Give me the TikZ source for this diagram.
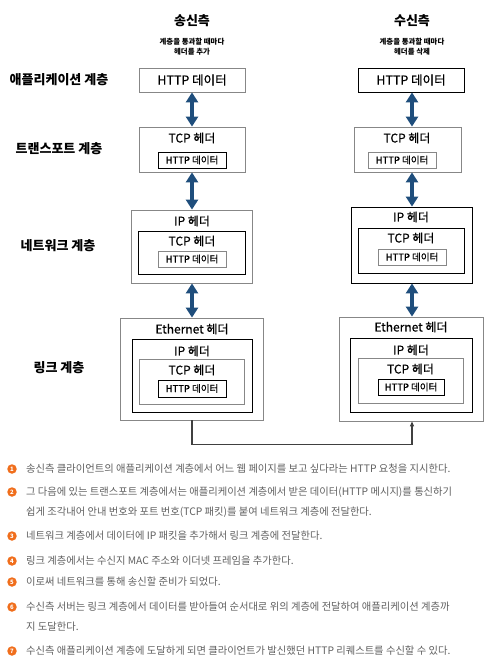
\documentclass[tikz,border=0pt]{standalone}
\usepackage{fontspec}
\setmainfont{Noto Sans CJK KR}
\newfontfamily\boxfont[FakeBold=0.6]{Noto Sans CJK KR}
\usetikzlibrary{arrows.meta}
\definecolor{arrowblue}{RGB}{31,78,124}
\definecolor{dotorange}{RGB}{240,110,28}
\definecolor{notegray}{RGB}{95,95,95}
\definecolor{boxgray}{RGB}{135,135,135}
\tikzset{
  frame/.style={draw=boxgray, line width=0.8pt, inner sep=0pt},
  darkframe/.style={draw=black, line width=0.8pt, inner sep=0pt},
  side/.style={font=\bfseries\fontsize{13}{15}\selectfont, inner sep=0pt},
  hint/.style={font=\bfseries\fontsize{7.4}{10.5}\selectfont, align=center, inner sep=0pt},
  layer/.style={font=\bfseries\fontsize{13}{15}\selectfont, inner sep=0pt},
  big/.style={font=\boxfont\fontsize{12.5}{14}\selectfont},
  mid/.style={font=\boxfont\fontsize{12}{14}\selectfont, inner sep=0pt},
  small/.style={font=\boxfont\fontsize{9.5}{11}\selectfont},
  updown/.style={draw=arrowblue, line width=4pt,
    {Triangle[length=10pt,width=12pt]}-{Triangle[length=10pt,width=12pt]}},
  wire/.style={draw=black!75, line width=1.2pt, -{Triangle[length=5pt,width=4pt]}},
  numdot/.style={circle, fill=dotorange, text=white, inner sep=0pt, minimum size=9.5pt,
    font=\bfseries\fontsize{6}{6}\selectfont},
  note/.style={anchor=west, text=notegray, inner sep=0pt, font=\fontsize{10.3}{12}\selectfont}
}
\begin{document}
\begin{tikzpicture}[x=1pt, y=-1pt]
\useasboundingbox (0,0) rectangle (490,666);

% column heads
\node[side] (stitle) at (192,21) {송신측};
\node[side] (rtitle) at (412,21) {수신측};
\node[hint] (shint) at (192,46.5) {계층을 통과할 때마다\\헤더를 추가};
\node[hint] (rhint) at (412,46.5) {계층을 통과할 때마다\\헤더를 삭제};

% layer names
\node[layer] (lapp) at (59,80) {애플리케이션 계층};
\node[layer] (ltrans) at (59,149) {트랜스포트 계층};
\node[layer] (lnet) at (58,246) {네트워크 계층};
\node[layer] (llink) at (59,368) {링크 계층};

%%%%%%%%%%%%%%%%%%%%%%%%%%%%%%%%%%%%%%%% sender
\node[frame, big, minimum width=106pt, minimum height=24pt] (sapp) at (192,80) {HTTP 데이터};

\node[frame, minimum width=106pt, minimum height=45pt] (stcp) at (192,149.5) {};
\node[mid] (stcph) at (192,138) {TCP 헤더};
\node[darkframe, small, minimum width=68pt, minimum height=16pt] (stcpd) at (192,160) {HTTP 데이터};

\node[frame, minimum width=121pt, minimum height=73pt] (sip) at (192,246.5) {};
\node[mid] (siph) at (192,221) {IP 헤더};
\node[darkframe, minimum width=107pt, minimum height=43pt] (siptcp) at (192,252.5) {};
\node[mid] (siptcph) at (192,241) {TCP 헤더};
\node[frame, small, minimum width=68pt, minimum height=16pt] (sipd) at (192,259) {HTTP 데이터};

\node[frame, minimum width=143pt, minimum height=102pt] (seth) at (192,369) {};
\node[mid] (sethh) at (192,329) {Ethernet 헤더};
\node[darkframe, minimum width=120pt, minimum height=73pt] (sethip) at (192,375.5) {};
\node[mid] (sethiph) at (192,351) {IP 헤더};
\node[frame, minimum width=105pt, minimum height=45pt] (sethtcp) at (192,381.5) {};
\node[mid] (sethtcph) at (192,370) {TCP 헤더};
\node[darkframe, small, minimum width=68pt, minimum height=17pt] (sethd) at (192,388.5) {HTTP 데이터};

%%%%%%%%%%%%%%%%%%%%%%%%%%%%%%%%%%%%%%%% receiver
\node[darkframe, big, minimum width=106pt, minimum height=24pt] (rapp) at (411,80) {HTTP 데이터};

\node[frame, minimum width=107pt, minimum height=45pt] (rtcp) at (407.5,149.5) {};
\node[mid] (rtcph) at (407,138) {TCP 헤더};
\node[frame, small, minimum width=68pt, minimum height=16pt] (rtcpd) at (402,160) {HTTP 데이터};

\node[darkframe, minimum width=121pt, minimum height=76pt] (rip) at (411.5,245) {};
\node[mid] (riph) at (411,217) {IP 헤더};
\node[darkframe, minimum width=106pt, minimum height=45pt] (riptcp) at (411,250.5) {};
\node[mid] (riptcph) at (411,238) {TCP 헤더};
\node[frame, small, minimum width=68pt, minimum height=16pt] (ripd) at (412,257) {HTTP 데이터};

\node[frame, minimum width=144pt, minimum height=104pt] (reth) at (411,369) {};
\node[mid] (rethh) at (411,327) {Ethernet 헤더};
\node[darkframe, minimum width=122pt, minimum height=74pt] (rethip) at (411,375) {};
\node[mid] (rethiph) at (411,350) {IP 헤더};
\node[frame, minimum width=105pt, minimum height=45pt] (rethtcp) at (410.5,380.5) {};
\node[mid] (rethtcph) at (410.5,369) {TCP 헤더};
\node[darkframe, small, minimum width=66pt, minimum height=16pt] (rethd) at (411,387) {HTTP 데이터};

%%%%%%%%%%%%%%%%%%%%%%%%%%%%%%%%%%%%%%%% arrows
\draw[updown] (sapp.south) -- (stcp.north);
\draw[updown] (stcp.south) -- (sip.north);
\draw[updown] (sip.south) -- (seth.north);
\draw[updown] (rapp.south -| 412,0) -- (rtcp.north -| 412,0);
\draw[updown] (rtcp.south -| 412,0) -- (rip.north -| 412,0);
\draw[updown] (rip.south -| 412,0) -- (reth.north -| 412,0);
\draw[wire] (seth.south) -- ++(0,24) coordinate (bend) -| (reth.south -| 412,0);

%%%%%%%%%%%%%%%%%%%%%%%%%%%%%%%%%%%%%%%% notes
\node[numdot] (d1) at (12,469) {1};
\node[note] (t1) at (26,469) {송신측 클라이언트의 애플리케이션 계층에서 어느 웹 페이지를 보고 싶다라는 HTTP 요청을 지시한다.};
\node[numdot] (d2) at (12,492) {2};
\node[note] (t2) at (26,492) {그 다음에 있는 트랜스포트 계층에서는 애플리케이션 계층에서 받은 데이터(HTTP 메시지)를 통신하기};
\node[note] (t2b) at (26,512) {쉽게 조각내어 안내 번호와 포트 번호(TCP 패킷)를 붙여 네트워크 계층에 전달한다.};
\node[numdot] (d3) at (12,536) {3};
\node[note] (t3) at (26,536) {네트워크 계층에서 데이터에 IP 패킷을 추가해서 링크 계층에 전달한다.};
\node[numdot] (d4) at (12,561) {4};
\node[note] (t4) at (26,561) {링크 계층에서는 수신지 MAC 주소와 이더넷 프레임을 추가한다.};
\node[numdot] (d5) at (12,582) {5};
\node[note] (t5) at (26,582) {이로써 네트워크를 통해 송신할 준비가 되었다.};
\node[numdot] (d6) at (12,607) {6};
\node[note] (t6) at (26,607) {수신측 서버는 링크 계층에서 데이터를 받아들여 순서대로 위의 계층에 전달하여 애플리케이션 계층까};
\node[note] (t6b) at (26,627) {지 도달한다.};
\node[numdot] (d7) at (12,651) {7};
\node[note] (t7) at (26,651) {수신측 애플리케이션 계층에 도달하게 되면 클라이언트가 발신했던 HTTP 리퀘스트를 수신할 수 있다.};

\end{tikzpicture}
\end{document}
